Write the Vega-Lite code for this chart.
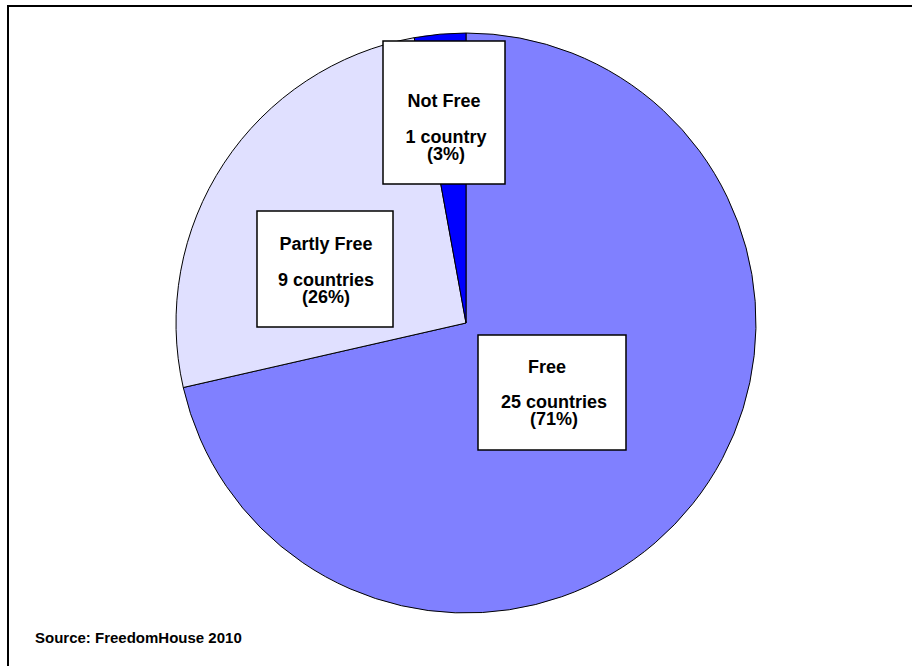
{
  "$schema": "https://vega.github.io/schema/vega-lite/v6.json",
  "width": 914,
  "height": 670,
  "autosize": "none",
  "padding": {"left": 8, "top": 6, "right": -10, "bottom": -10},
  "background": "white",
  "config": {"view": {"stroke": "black", "strokeWidth": 2}},
  "title": {
    "text": "Source: FreedomHouse 2010",
    "orient": "bottom",
    "anchor": "start",
    "frame": "group",
    "baseline": "alphabetic",
    "offset": -33,
    "dx": 27,
    "font": "Liberation Sans",
    "fontSize": 15,
    "fontWeight": "bold",
    "color": "black"
  },
  "datasets": {
    "slices": [
      {"status": "Free", "count": 25},
      {"status": "Partly Free", "count": 9},
      {"status": "Not Free", "count": 1}
    ],
    "labels": [
      {"status": "Not Free", "name": "Not Free", "detail": "1 country\n(3%)", "bx1": -0.2862, "bx2": 0.1345, "by1": 0.9724, "by2": 0.4793, "nx": -0.0759, "ny": 0.7448, "detx": -0.069, "dety": 0.6207},
      {"status": "Partly Free", "name": "Partly Free", "detail": "9 countries\n(26%)", "bx1": -0.7207, "bx2": -0.2517, "by1": 0.3862, "by2": -0.0138, "nx": -0.4828, "ny": 0.2517, "detx": -0.4828, "dety": 0.1276},
      {"status": "Free", "name": "Free", "detail": "25 countries\n(71%)", "bx1": 0.0414, "bx2": 0.5517, "by1": -0.0414, "by2": -0.4379, "nx": 0.2793, "ny": -0.1724, "detx": 0.3034, "dety": -0.2931}
    ]
  },
  "layer": [
    {
      "data": {"name": "slices"},
      "mark": {"type": "arc", "outerRadius": 290, "xOffset": 1, "yOffset": -18, "stroke": "black", "strokeWidth": 1},
      "encoding": {
        "theta": {"field": "count", "type": "quantitative", "stack": true},
        "order": {"field": "count", "type": "quantitative", "sort": "descending"},
        "color": {
          "field": "status",
          "type": "nominal",
          "scale": {"domain": ["Free", "Partly Free", "Not Free"], "range": ["#8080FF", "#E0E0FF", "#0000FF"]},
          "legend": null
        }
      }
    },
    {
      "data": {"name": "labels"},
      "mark": {"type": "rect", "fill": "white", "stroke": "black", "strokeWidth": 1.5},
      "encoding": {
        "x": {"field": "bx1", "type": "quantitative", "scale": {"domain": [-1.5793, 1.5724], "nice": false, "zero": false}, "axis": null},
        "x2": {"field": "bx2"},
        "y": {"field": "by1", "type": "quantitative", "scale": {"domain": [-1.2172, 1.0931], "nice": false, "zero": false}, "axis": null},
        "y2": {"field": "by2"}
      }
    },
    {
      "data": {"name": "labels"},
      "mark": {"type": "text", "align": "center", "baseline": "alphabetic", "font": "Liberation Sans", "fontSize": 18, "fontWeight": "bold", "color": "black"},
      "encoding": {
        "x": {"field": "nx", "type": "quantitative"},
        "y": {"field": "ny", "type": "quantitative"},
        "text": {"field": "name"}
      }
    },
    {
      "data": {"name": "labels"},
      "mark": {"type": "text", "align": "center", "baseline": "alphabetic", "lineBreak": "\n", "lineHeight": 17, "font": "Liberation Sans", "fontSize": 18, "fontWeight": "bold", "color": "black"},
      "encoding": {
        "x": {"field": "detx", "type": "quantitative"},
        "y": {"field": "dety", "type": "quantitative"},
        "text": {"field": "detail"}
      }
    }
  ]
}
